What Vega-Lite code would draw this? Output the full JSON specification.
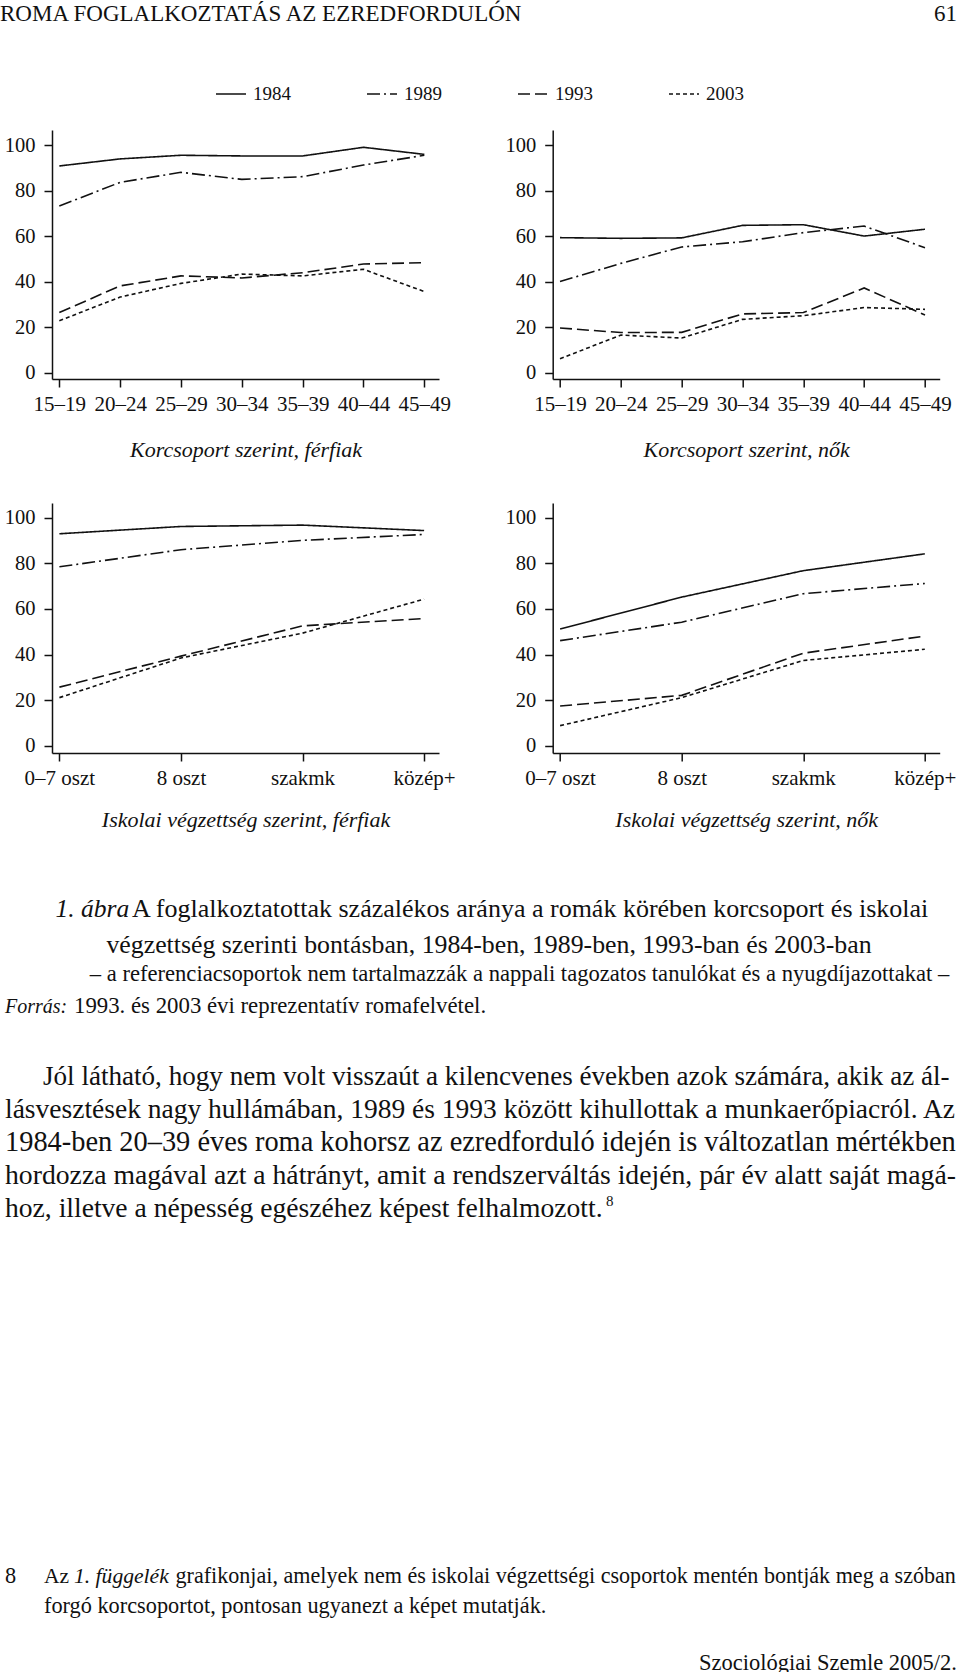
{
  "$schema": "https://vega.github.io/schema/vega-lite/v6.json",
  "padding": 0,
  "background": "white",
  "config": {
    "view": {"stroke": null},
    "font": "Liberation Serif",
    "axis": {
      "grid": false,
      "domainColor": "#111",
      "domainWidth": 1.5,
      "tickColor": "#111",
      "tickWidth": 1.5,
      "tickSize": 8,
      "labelFont": "Liberation Serif",
      "labelFontSize": 20.5,
      "labelColor": "#111",
      "labelFlush": false,
      "labelOverlap": false,
      "titleFont": "Liberation Serif",
      "titleFontSize": 22,
      "titleFontStyle": "italic",
      "titleFontWeight": "normal",
      "titleColor": "#111"
    },
    "axisX": {"labelBaseline": "alphabetic", "labelPadding": 23, "labelAngle": 0, "labelFontSize": 21, "titleBaseline": "alphabetic"},
    "axisY": {"labelPadding": 9},
    "title": {"font": "Liberation Serif", "color": "#111", "fontWeight": "normal", "limit": 0}
  },
  "datasets": {
    "age_m": [
      {"group": "15–19", "year": "1984", "pct": 90.8}, {"group": "20–24", "year": "1984", "pct": 93.9}, {"group": "25–29", "year": "1984", "pct": 95.5}, {"group": "30–34", "year": "1984", "pct": 95.2}, {"group": "35–39", "year": "1984", "pct": 95.2}, {"group": "40–44", "year": "1984", "pct": 99.0}, {"group": "45–49", "year": "1984", "pct": 95.9},
      {"group": "15–19", "year": "1989", "pct": 73.2}, {"group": "20–24", "year": "1989", "pct": 83.6}, {"group": "25–29", "year": "1989", "pct": 88.0}, {"group": "30–34", "year": "1989", "pct": 84.9}, {"group": "35–39", "year": "1989", "pct": 86.1}, {"group": "40–44", "year": "1989", "pct": 91.2}, {"group": "45–49", "year": "1989", "pct": 95.5},
      {"group": "15–19", "year": "1993", "pct": 26.4}, {"group": "20–24", "year": "1993", "pct": 38.1}, {"group": "25–29", "year": "1993", "pct": 42.5}, {"group": "30–34", "year": "1993", "pct": 41.6}, {"group": "35–39", "year": "1993", "pct": 43.9}, {"group": "40–44", "year": "1993", "pct": 47.7}, {"group": "45–49", "year": "1993", "pct": 48.3},
      {"group": "15–19", "year": "2003", "pct": 22.8}, {"group": "20–24", "year": "2003", "pct": 33.2}, {"group": "25–29", "year": "2003", "pct": 39.2}, {"group": "30–34", "year": "2003", "pct": 43.3}, {"group": "35–39", "year": "2003", "pct": 42.5}, {"group": "40–44", "year": "2003", "pct": 45.4}, {"group": "45–49", "year": "2003", "pct": 35.6}
    ],
    "age_f": [
      {"group": "15–19", "year": "1984", "pct": 59.3}, {"group": "20–24", "year": "1984", "pct": 59.0}, {"group": "25–29", "year": "1984", "pct": 59.2}, {"group": "30–34", "year": "1984", "pct": 64.7}, {"group": "35–39", "year": "1984", "pct": 65.0}, {"group": "40–44", "year": "1984", "pct": 60.0}, {"group": "45–49", "year": "1984", "pct": 63.0},
      {"group": "15–19", "year": "1989", "pct": 40.0}, {"group": "20–24", "year": "1989", "pct": 48.0}, {"group": "25–29", "year": "1989", "pct": 55.2}, {"group": "30–34", "year": "1989", "pct": 57.5}, {"group": "35–39", "year": "1989", "pct": 61.5}, {"group": "40–44", "year": "1989", "pct": 64.4}, {"group": "45–49", "year": "1989", "pct": 54.9},
      {"group": "15–19", "year": "1993", "pct": 19.6}, {"group": "20–24", "year": "1993", "pct": 17.6}, {"group": "25–29", "year": "1993", "pct": 17.7}, {"group": "30–34", "year": "1993", "pct": 25.8}, {"group": "35–39", "year": "1993", "pct": 26.4}, {"group": "40–44", "year": "1993", "pct": 37.2}, {"group": "45–49", "year": "1993", "pct": 25.3},
      {"group": "15–19", "year": "2003", "pct": 6.1}, {"group": "20–24", "year": "2003", "pct": 16.5}, {"group": "25–29", "year": "2003", "pct": 15.2}, {"group": "30–34", "year": "2003", "pct": 23.4}, {"group": "35–39", "year": "2003", "pct": 25.0}, {"group": "40–44", "year": "2003", "pct": 28.6}, {"group": "45–49", "year": "2003", "pct": 27.8}
    ],
    "edu_m": [
      {"group": "0–7 oszt", "year": "1984", "pct": 93.0}, {"group": "8 oszt", "year": "1984", "pct": 96.2}, {"group": "szakmk", "year": "1984", "pct": 96.8}, {"group": "közép+", "year": "1984", "pct": 94.4},
      {"group": "0–7 oszt", "year": "1989", "pct": 78.5}, {"group": "8 oszt", "year": "1989", "pct": 86.0}, {"group": "szakmk", "year": "1989", "pct": 90.1}, {"group": "közép+", "year": "1989", "pct": 92.7},
      {"group": "0–7 oszt", "year": "1993", "pct": 25.7}, {"group": "8 oszt", "year": "1993", "pct": 39.3}, {"group": "szakmk", "year": "1993", "pct": 52.6}, {"group": "közép+", "year": "1993", "pct": 55.8},
      {"group": "0–7 oszt", "year": "2003", "pct": 21.1}, {"group": "8 oszt", "year": "2003", "pct": 38.5}, {"group": "szakmk", "year": "2003", "pct": 49.4}, {"group": "közép+", "year": "2003", "pct": 64.3}
    ],
    "edu_f": [
      {"group": "0–7 oszt", "year": "1984", "pct": 51.2}, {"group": "8 oszt", "year": "1984", "pct": 65.2}, {"group": "szakmk", "year": "1984", "pct": 76.8}, {"group": "közép+", "year": "1984", "pct": 84.2},
      {"group": "0–7 oszt", "year": "1989", "pct": 46.1}, {"group": "8 oszt", "year": "1989", "pct": 54.2}, {"group": "szakmk", "year": "1989", "pct": 66.7}, {"group": "közép+", "year": "1989", "pct": 71.2},
      {"group": "0–7 oszt", "year": "1993", "pct": 17.4}, {"group": "8 oszt", "year": "1993", "pct": 22.1}, {"group": "szakmk", "year": "1993", "pct": 40.6}, {"group": "közép+", "year": "1993", "pct": 48.1},
      {"group": "0–7 oszt", "year": "2003", "pct": 8.8}, {"group": "8 oszt", "year": "2003", "pct": 21.1}, {"group": "szakmk", "year": "2003", "pct": 37.4}, {"group": "közép+", "year": "2003", "pct": 42.3}
    ],
    "blank": [{}]
  },
  "resolve": {"scale": {"strokeDash": "independent"}, "legend": {"strokeDash": "independent"}},
  "bounds": "flush",
  "align": "each",
  "columns": 2,
  "spacing": {"row": 0, "column": 113.7},
  "concat": [
    {"width": 387, "height": 130, "data": {"name": "blank"}, "mark": {"type": "point", "opacity": 0},
     "title": {"text": "ROMA FOGLALKOZTATÁS AZ EZREDFORDULÓN", "orient": "bottom", "baseline": "alphabetic", "frame": "group", "anchor": "start", "dx": -52, "offset": -109, "fontSize": 23}},
    {"width": 387, "height": 130, "data": {"name": "blank"}, "mark": {"type": "point", "opacity": 0},
     "title": {"text": "61", "orient": "bottom", "baseline": "alphabetic", "frame": "group", "anchor": "end", "dx": 17.3, "offset": -109, "fontSize": 23}},
    {
      "width": 387, "height": 249,
      "data": {"name": "age_m"},
      "mark": {"type": "line", "color": "#111", "strokeWidth": 1.6},
      "encoding": {
        "x": {"field": "group", "type": "ordinal", "scale": {"type": "point", "domain": ["15–19", "20–24", "25–29", "30–34", "35–39", "40–44", "45–49"], "padding": 0.1808, "align": 0.332}, "axis": {"title": "Korcsoport szerint, férfiak", "titleY": 77.4}},
        "y": {"field": "pct", "type": "quantitative", "scale": {"domain": [-2.8, 106.6], "nice": false, "zero": false}, "axis": {"values": [0, 20, 40, 60, 80, 100], "title": null}},
        "strokeDash": {"field": "year", "type": "nominal", "scale": {"domain": ["1984", "1989", "1993", "2003"], "range": [[1, 0], [13, 4, 2, 4], [12, 5], [4, 3]]},
          "legend": {"orient": "none", "legendX": 163, "legendY": -52, "direction": "horizontal", "columns": 4, "title": null, "symbolType": "stroke", "symbolSize": 900, "symbolStrokeWidth": 1.6, "symbolStrokeColor": "#111", "labelFont": "Liberation Serif", "labelFontSize": 19, "labelColor": "#111", "labelOffset": 6, "columnPadding": 72, "padding": 0}}
      }
    },
    {
      "width": 387, "height": 249,
      "data": {"name": "age_f"},
      "mark": {"type": "line", "color": "#111", "strokeWidth": 1.6},
      "encoding": {
        "x": {"field": "group", "type": "ordinal", "scale": {"type": "point", "domain": ["15–19", "20–24", "25–29", "30–34", "35–39", "40–44", "45–49"], "padding": 0.1808, "align": 0.332}, "axis": {"title": "Korcsoport szerint, nők", "titleY": 77.4}},
        "y": {"field": "pct", "type": "quantitative", "scale": {"domain": [-2.8, 106.6], "nice": false, "zero": false}, "axis": {"values": [0, 20, 40, 60, 80, 100], "title": null}},
        "strokeDash": {"field": "year", "type": "nominal", "scale": {"domain": ["1984", "1989", "1993", "2003"], "range": [[1, 0], [13, 4, 2, 4], [12, 5], [4, 3]]}, "legend": null}
      }
    },
    {"width": 387, "height": 123.5, "data": {"name": "blank"}, "mark": {"type": "point", "opacity": 0},
     "title": {"text": "1. ábra", "orient": "bottom", "baseline": "alphabetic", "frame": "group", "anchor": "start", "dx": 3.5, "offset": 414, "fontSize": 25.5, "fontStyle": "italic"}},
    {"width": 387, "height": 123.5, "data": {"name": "blank"}, "mark": {"type": "point", "opacity": 0},
     "title": {"text": "A foglalkoztatottak százalékos aránya a romák körében korcsoport és iskolai", "orient": "bottom", "baseline": "alphabetic", "frame": "group", "anchor": "start", "dx": -420.7, "offset": 414, "fontSize": 26}},
    {
      "width": 387, "height": 250,
      "data": {"name": "edu_m"},
      "mark": {"type": "line", "color": "#111", "strokeWidth": 1.6},
      "encoding": {
        "x": {"field": "group", "type": "ordinal", "scale": {"type": "point", "domain": ["0–7 oszt", "8 oszt", "szakmk", "közép+"], "padding": 0.0917, "align": 0.332}, "axis": {"title": "Iskolai végzettség szerint, férfiak", "titleY": 73.7}},
        "y": {"field": "pct", "type": "quantitative", "scale": {"domain": [-3.2, 106.5], "nice": false, "zero": false}, "axis": {"values": [0, 20, 40, 60, 80, 100], "title": null}},
        "strokeDash": {"field": "year", "type": "nominal", "scale": {"domain": ["1984", "1989", "1993", "2003"], "range": [[1, 0], [13, 4, 2, 4], [12, 5], [4, 3]]}, "legend": null}
      }
    },
    {
      "width": 387, "height": 250,
      "data": {"name": "edu_f"},
      "mark": {"type": "line", "color": "#111", "strokeWidth": 1.6},
      "encoding": {
        "x": {"field": "group", "type": "ordinal", "scale": {"type": "point", "domain": ["0–7 oszt", "8 oszt", "szakmk", "közép+"], "padding": 0.0917, "align": 0.332}, "axis": {"title": "Iskolai végzettség szerint, nők", "titleY": 73.7}},
        "y": {"field": "pct", "type": "quantitative", "scale": {"domain": [-3.2, 106.5], "nice": false, "zero": false}, "axis": {"values": [0, 20, 40, 60, 80, 100], "title": null}},
        "strokeDash": {"field": "year", "type": "nominal", "scale": {"domain": ["1984", "1989", "1993", "2003"], "range": [[1, 0], [13, 4, 2, 4], [12, 5], [4, 3]]}, "legend": null}
      }
    },
    {"width": 387, "height": 1, "data": {"name": "blank"}, "mark": {"type": "point", "opacity": 0},
     "title": {"text": "végzettség szerinti bontásban, 1984-ben, 1989-ben, 1993-ban és 2003-ban", "orient": "bottom", "baseline": "alphabetic", "frame": "group", "anchor": "middle", "dx": 243.5, "offset": 196.3, "fontSize": 25.8}},
    {"width": 387, "height": 1, "data": {"name": "blank"}, "mark": {"type": "point", "opacity": 0},
     "title": {"text": "– a referenciacsoportok nem tartalmazzák a nappali tagozatos tanulókat és a nyugdíjazottakat –", "orient": "bottom", "baseline": "alphabetic", "frame": "group", "anchor": "middle", "dx": -226.7, "offset": 225.2, "fontSize": 22.6}},
    {"width": 387, "height": 1, "data": {"name": "blank"}, "mark": {"type": "point", "opacity": 0},
     "title": {"text": "Forrás:", "orient": "bottom", "baseline": "alphabetic", "frame": "group", "anchor": "start", "dx": -47, "offset": 255.4, "fontSize": 20, "fontStyle": "italic"}},
    {"width": 387, "height": 1, "data": {"name": "blank"}, "mark": {"type": "point", "opacity": 0},
     "title": {"text": "1993. és 2003 évi reprezentatív romafelvétel.", "orient": "bottom", "baseline": "alphabetic", "frame": "group", "anchor": "start", "dx": -478.7, "offset": 255.4, "fontSize": 22.8}},
    {"width": 387, "height": 1, "data": {"name": "blank"}, "mark": {"type": "point", "opacity": 0},
     "title": {"text": "Jól látható, hogy nem volt visszaút a kilencvenes években azok számára, akik az ál-", "orient": "bottom", "baseline": "alphabetic", "frame": "group", "anchor": "start", "dx": -9, "offset": 327, "fontSize": 27.1}},
    {"width": 387, "height": 1, "data": {"name": "blank"}, "mark": {"type": "point", "opacity": 0},
     "title": {"text": "lásvesztések nagy hullámában, 1989 és 1993 között kihullottak a munkaerőpiacról. Az", "orient": "bottom", "baseline": "alphabetic", "frame": "group", "anchor": "start", "dx": -547.7, "offset": 360, "fontSize": 27.5}},
    {"width": 387, "height": 1, "data": {"name": "blank"}, "mark": {"type": "point", "opacity": 0},
     "title": {"text": "1984-ben 20–39 éves roma kohorsz az ezredforduló idején is változatlan mértékben", "orient": "bottom", "baseline": "alphabetic", "frame": "group", "anchor": "start", "dx": -47, "offset": 392, "fontSize": 28.4}},
    {"width": 387, "height": 1, "data": {"name": "blank"}, "mark": {"type": "point", "opacity": 0},
     "title": {"text": "hordozza magával azt a hátrányt, amit a rendszerváltás idején, pár év alatt saját magá-", "orient": "bottom", "baseline": "alphabetic", "frame": "group", "anchor": "start", "dx": -547.7, "offset": 425, "fontSize": 27.7}},
    {"width": 387, "height": 1, "data": {"name": "blank"}, "mark": {"type": "point", "opacity": 0},
     "title": {"text": "hoz, illetve a népesség egészéhez képest felhalmozott.", "orient": "bottom", "baseline": "alphabetic", "frame": "group", "anchor": "start", "dx": -47, "offset": 457, "fontSize": 27.6}},
    {"width": 387, "height": 1, "data": {"name": "blank"}, "mark": {"type": "point", "opacity": 0},
     "title": {"text": "8", "orient": "bottom", "baseline": "alphabetic", "frame": "group", "anchor": "start", "dx": 53.3, "offset": 445.5, "fontSize": 15}},
    {"width": 387, "height": 1, "data": {"name": "blank"}, "mark": {"type": "point", "opacity": 0},
     "title": {"text": "8", "orient": "bottom", "baseline": "alphabetic", "frame": "group", "anchor": "start", "dx": -47, "offset": 821.5, "fontSize": 22.3}},
    {"width": 387, "height": 1, "data": {"name": "blank"}, "mark": {"type": "point", "opacity": 0},
     "title": {"text": "Az", "orient": "bottom", "baseline": "alphabetic", "frame": "group", "anchor": "start", "dx": -508.7, "offset": 821.5, "fontSize": 21.5}},
    {"width": 387, "height": 1, "data": {"name": "blank"}, "mark": {"type": "point", "opacity": 0},
     "title": {"text": "1. függelék", "orient": "bottom", "baseline": "alphabetic", "frame": "group", "anchor": "start", "dx": 22, "offset": 820.5, "fontSize": 21.6, "fontStyle": "italic"}},
    {"width": 387, "height": 1, "data": {"name": "blank"}, "mark": {"type": "point", "opacity": 0},
     "title": {"text": "grafikonjai, amelyek nem és iskolai végzettségi csoportok mentén bontják meg a szóban", "orient": "bottom", "baseline": "alphabetic", "frame": "group", "anchor": "start", "dx": -377.2, "offset": 820.5, "fontSize": 22.1}},
    {"width": 387, "height": 1, "data": {"name": "blank"}, "mark": {"type": "point", "opacity": 0},
     "title": {"text": "forgó korcsoportot, pontosan ugyanezt a képet mutatják.", "orient": "bottom", "baseline": "alphabetic", "frame": "group", "anchor": "start", "dx": -8, "offset": 849.5, "fontSize": 22.3}},
    {"width": 387, "height": 1, "data": {"name": "blank"}, "mark": {"type": "point", "opacity": 0},
     "title": {"text": "Szociológiai Szemle 2005/2.", "orient": "bottom", "baseline": "alphabetic", "frame": "group", "anchor": "end", "dx": 17.3, "offset": 906.5, "fontSize": 22.5}}
  ]
}
